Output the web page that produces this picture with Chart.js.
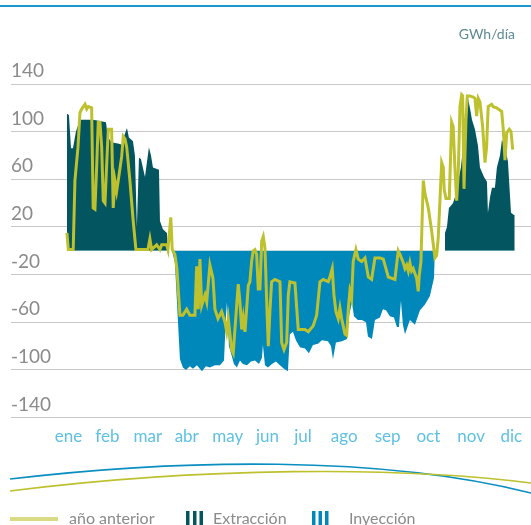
<!DOCTYPE html>
<html>
<head>
<meta charset="utf-8">
<script src="https://cdn.jsdelivr.net/npm/chart.js@4"></script>
<style>
  html, body { margin: 0; padding: 0; background: #fff; }
</style>
</head>
<body>
<canvas id="chart" width="531" height="525"></canvas>
<script>
// day of year (0 = 1 ene) and net flow in GWh/día: positive = extracción, negative = inyección
const flowDays = [
  0, 1.6, 3.3, 4.9, 7.3, 10.6, 21.2, 26.9, 31.8, 33.4, 36.7, 41.6, 44.8, 46.5, 48.9, 50.5,
  53.8, 55.4, 57.0, 58.7, 60.3, 63.6, 66.8, 68.5, 70.1, 75.0, 75.8, 78.2, 81.5, 82.3,
  85.6, 88.0, 90.5, 92.1, 94.5, 97.0, 100.2, 102.7, 105.9, 110.0, 113.3, 116.5, 120.6, 124.7,
  128.0, 129.6, 130.4, 132.0, 133.7, 136.1, 138.5, 141.0, 143.4, 146.7, 150.0, 153.2, 156.5,
  158.9, 159.7, 161.4, 163.8, 167.1, 170.3, 173.6, 176.9, 180.1, 181.7, 184.2, 186.6, 189.9,
  194.0, 197.2, 200.5, 204.6, 207.8, 212.7, 215.2, 216.8, 219.2, 224.1, 228.2, 229.8, 232.3,
  233.9, 237.2, 240.4, 243.7, 245.3, 248.6, 251.0, 255.1, 257.5, 260.0, 263.2, 266.5, 268.9,
  270.6, 272.2, 273.8, 275.5, 279.5, 283.6, 287.7, 291.8, 295.8, 299.1, 299.9,
  307.3, 308.1, 309.7, 311.3, 314.6, 316.2, 318.7, 321.1, 323.6, 325.2, 326.8, 328.4, 330.1,
  332.5, 335.0, 336.6, 339.9, 342.3, 343.1, 344.8, 346.4, 348.8, 350.4, 352.9, 354.5, 356.9,
  359.4, 361.9, 364.3, 365
];
const flowValues = [
  115, 114, 86, 86, 100, 110, 110, 109, 108, 95, 91, 90, 89, 96, 103, 95,
  92, 80, 20, 78, 77, 62, 87, 80, 70, 68, 25, 18, 15, 0,
  0, -10, -60, -91, -98, -100, -97, -99, -96, -101, -97, -98, -96, -96,
  -92, -55, -43, -80, -86, -95, -98, -92, -95, -96, -93, -92, -95,
  -90, -79, -96, -98, -95, -93, -96, -99, -101, -70, -68, -75, -81,
  -82, -86, -79, -78, -75, -76, -80, -91, -77, -76, -74, -55, -43,
  -55, -58, -58, -60, -72, -74, -58, -56, -49, -50, -55, -56, -64,
  -64, -42, -62, -70, -58, -62, -50, -45, -38, -23, 0,
  0, 15, 20, 36, 40, 45, 58, 70, 95, 120, 128, 120, 110,
  102, 88, 70, 62, 58, 32, 45, 53, 53, 70, 80, 93, 88,
  75, 32, 30, 30
];

// año anterior
const prevDays = [
  0, 1.1, 5.1, 6.5, 9.0, 10.6, 12.0, 14.7, 16.1, 17.4, 20.1, 21.4, 22.8, 24.2, 25.5, 26.9,
  28.3, 29.6, 31.0, 32.4, 33.7, 36.4, 37.7, 39.1, 40.5, 41.8, 44.6, 45.9, 47.3, 48.7, 51.3,
  54.0, 56.2, 66.0, 67.6, 69.0, 73.1, 75.8, 77.2, 81.3, 82.3, 84.6, 85.8, 88.0, 89.6, 92.1,
  94.5, 97.6, 100.2, 104.3, 105.7, 107.0, 108.4, 109.8, 112.5, 113.9, 116.5, 119.0, 120.6,
  123.1, 126.1, 128.8, 130.2, 131.5, 134.2, 135.5, 136.9, 139.6, 141.0, 142.4, 143.7, 145.1,
  147.8, 149.1, 150.5, 151.8, 153.2, 154.6, 155.9, 157.3, 158.7, 160.0, 161.4, 162.8, 164.1,
  165.4, 166.8, 169.5, 173.6, 175.0, 176.9, 179.1, 180.4, 181.7, 185.8, 188.5, 194.0, 196.7,
  200.7, 203.5, 206.2, 208.9, 213.0, 214.3, 216.2, 217.6, 219.2, 221.1, 222.5, 223.9, 226.6,
  228.0, 229.3, 230.6, 232.0, 233.3, 235.5, 237.4, 240.2, 242.9, 245.6, 248.3, 251.0, 255.1,
  257.8, 260.0, 261.9, 267.3, 270.0, 271.4, 274.1, 275.5, 276.9, 278.2, 279.5, 280.9, 282.2,
  283.6, 285.0, 286.3, 287.1, 288.5, 290.4, 291.8, 294.5, 297.2, 299.9, 301.3, 302.6, 305.4,
  306.7, 307.5, 308.9, 311.6, 313.5, 314.8, 316.2, 317.6, 318.9, 320.3, 321.7, 322.5, 323.6,
  325.2, 326.3, 328.4, 331.1, 332.5, 333.9, 335.2, 336.6, 338.8, 340.7, 342.0, 343.3, 346.1,
  347.4, 350.2, 354.3, 355.6, 357.0, 358.4, 360.5, 361.9, 363.3
];
const prevValues = [
  15, 1, 1, 59, 87, 116, 119, 123, 119, 121, 120, 36, 35, 70, 108, 108,
  87, 42, 40, 73, 102, 102, 36, 59, 50, 59, 79, 96, 94, 87, 59,
  25, 1, 1, 10, 1, 5, 1, 5, 5, 1, 28, 1, -3, -15, -54,
  -54, -49, -54, -54, -13, -49, -7, -46, -37, -43, -12, -23, -49,
  -57, -51, -60, -68, -57, -83, -86, -66, -28, -43, -66, -56, -68,
  -29, -26, -9, 0, 1, -3, -32, -32, 8, 12, 2, -43, -80,
  -51, -26, -24, -26, -77, -83, -77, -37, -26, -27, -66, -66, -68,
  -63, -54, -26, -24, -26, -22, -15, -37, -51, -57, -48, -57, -70,
  -71, -49, -34, -40, -9, 1, -7, -9, -6, -22, -24, -6, -6,
  -7, -15, -22, -24, 0, -3, -10, -15, -12, -17, -10, -17, -15,
  -19, -23, -34, -21, -9, 59, 48, 36, 17, -6, -4, 11, 74,
  70, 51, 44, 44, 108, 104, 70, 42, 65, 121, 131, 130, 52,
  110, 130, 130, 129, 128, 113, 128, 125, 104, 74, 87, 121, 123,
  121, 120, 117, 102, 76, 99, 102, 100, 85
];

const monthTicks = [1.3, 33.0, 65.9, 97.6, 131.0, 163.4, 192.4, 225.9, 261.4, 294.5, 329.4, 362.1];
const monthLabels = ['ene', 'feb', 'mar', 'abr', 'may', 'jun', 'jul', 'ago', 'sep', 'oct', 'nov', 'dic'];
const yTicks = [-140, -100, -60, -20, 20, 60, 100, 140];

const TEAL = '#03555f';
const BLUE = '#0088bb';
const OLIVE = '#bec12e';
const FONT = 'Lato, "Open Sans", sans-serif';

const decor = {
  id: 'decor',
  afterDraw(chart) {
    const ctx = chart.ctx;
    ctx.save();
    // top rule
    ctx.fillStyle = '#1b97d0';
    ctx.fillRect(0, 5, 531, 2);
    // unit
    ctx.font = '14px ' + FONT;
    ctx.fillStyle = '#5e8a92';
    ctx.textAlign = 'right';
    ctx.textBaseline = 'middle';
    ctx.fillText('GWh/día', 515, 34);
    // decorative swooshes
    ctx.lineWidth = 1.6;
    ctx.strokeStyle = '#0a8ec0';
    ctx.beginPath();
    ctx.moveTo(10, 479);
    ctx.bezierCurveTo(180, 459, 380, 455, 531, 493);
    ctx.stroke();
    ctx.strokeStyle = OLIVE;
    ctx.beginPath();
    ctx.moveTo(10, 491);
    ctx.bezierCurveTo(200, 467, 400, 466, 531, 483);
    ctx.stroke();
    // legend
    ctx.fillStyle = '#d9da84';
    ctx.fillRect(10, 517, 48, 4);
    ctx.fillStyle = TEAL;
    [186, 193, 199.5].forEach(x => ctx.fillRect(x, 511, 3.5, 14));
    ctx.fillStyle = BLUE;
    [312, 318.5, 325].forEach(x => ctx.fillRect(x, 511, 3.5, 14));
    ctx.font = '16px ' + FONT;
    ctx.fillStyle = '#8b8b8b';
    ctx.textAlign = 'left';
    ctx.textBaseline = 'alphabetic';
    ctx.fillText('año anterior', 69, 524);
    ctx.fillText('Extracción', 213, 524);
    ctx.fillText('Inyección', 349, 524);
    ctx.restore();
  }
};

new Chart(document.getElementById('chart').getContext('2d'), {
  type: 'line',
  data: {
    datasets: [
      {
        label: 'año anterior',
        data: prevDays.map((d, i) => ({ x: d, y: prevValues[i] })),
        borderColor: OLIVE,
        borderWidth: 3,
        pointRadius: 0,
        tension: 0,
        fill: false,
        order: 1,
      },
      {
        label: 'Extracción / Inyección',
        data: flowDays.map((d, i) => ({ x: d, y: flowValues[i] })),
        borderWidth: 0,
        borderColor: 'transparent',
        pointRadius: 0,
        tension: 0,
        fill: { target: 'origin', above: TEAL, below: BLUE },
        order: 2,
      }
    ]
  },
  options: {
    responsive: false,
    animation: false,
    layout: { padding: { left: 11, right: 0, top: 84, bottom: 77 } },
    plugins: { legend: { display: false }, tooltip: { enabled: false } },
    scales: {
      x: {
        type: 'linear',
        min: -45.6,
        max: 378.2,
        afterBuildTicks: s => { s.ticks = monthTicks.map(v => ({ value: v })); },
        grid: { display: false },
        border: { display: false },
        ticks: {
          autoSkip: false,
          maxRotation: 0,
          padding: 1,
          color: '#5ec1e3',
          font: { family: FONT, size: 17 },
          callback: (v, i) => monthLabels[i],
        }
      },
      y: {
        min: -140,
        max: 140,
        afterBuildTicks: s => { s.ticks = yTicks.map(v => ({ value: v })); },
        grid: { color: '#c9c9c9', lineWidth: 1, drawTicks: false },
        border: { display: false },
        ticks: {
          mirror: true,
          padding: 0,
          labelOffset: -13,
          color: '#8b8b8b',
          font: { family: FONT, size: 19 },
        }
      }
    }
  },
  plugins: [decor]
});
</script>
</body>
</html>
